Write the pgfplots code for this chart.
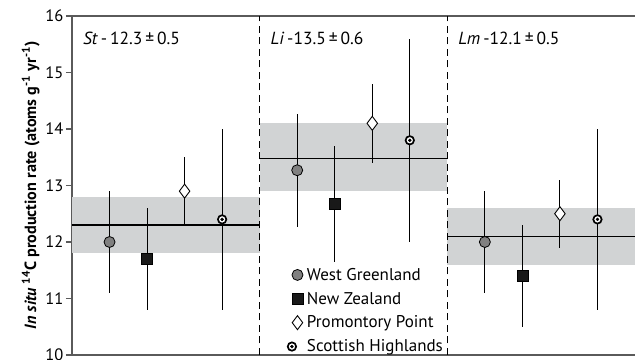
\documentclass[border=0pt]{standalone}
\usepackage{pgfplots}
\pgfplotsset{compat=1.18}
\usepackage{fontspec}
\setmainfont{PT Sans}
\definecolor{band}{HTML}{D1D3D4}
\definecolor{spine}{HTML}{5A5A5A}
\definecolor{wg}{HTML}{808080}
\begin{document}
\begin{tikzpicture}
\begin{axis}[
  scale only axis, width=563pt, height=339pt,
  xmin=0, xmax=15, ymin=10, ymax=16,
  axis y line*=left,
  axis line style={spine, line width=1.3pt},
  xtick=\empty,
  ytick={10,11,12,13,14,15,16},
  ytick pos=left, tick align=outside,
  major tick length=6pt,
  tick style={spine, line width=1.3pt},
  /pgf/number format/assume math mode=true,
  ticklabel style={font=\fontsize{16.5}{18}\selectfont},
  yticklabel style={xshift=1pt},
  ylabel={\textit{In situ} \textsuperscript{14}C production rate (atoms g\textsuperscript{-1} yr\textsuperscript{-1})},
  ylabel style={font=\fontsize{16.2}{18}\selectfont\bfseries, yshift=-1pt},
  clip=false,
  legend style={at={(axis cs:5.72,9.99)}, anchor=south west, draw=none, fill=none,
    font=\fontsize{17}{19}\selectfont, row sep=6.3pt, inner sep=0pt,
    nodes={inner xsep=4pt}},
  legend cell align=left,
  legend image post style={xshift=-3pt},
]
% bands
\addplot[fill=band, draw=none, forget plot] coordinates {(0,11.8) (5,11.8) (5,12.8) (0,12.8)} -- cycle;
\addplot[fill=band, draw=none, forget plot] coordinates {(5,12.9) (10,12.9) (10,14.1) (5,14.1)} -- cycle;
\addplot[fill=band, draw=none, forget plot] coordinates {(10,11.6) (15,11.6) (15,12.6) (10,12.6)} -- cycle;
% means
\addplot[black, line width=1.1pt, forget plot] coordinates {(0,12.3) (5,12.3)};
\addplot[black, line width=1.1pt, forget plot] coordinates {(5,13.47) (10,13.47)};
\addplot[black, line width=1.1pt, forget plot] coordinates {(10,12.1) (15,12.1)};
% dividers
\addplot[black, line width=1.6pt, dash pattern=on 7pt off 4.5pt, forget plot] coordinates {(5,10) (5,16)};
\addplot[black, line width=1.6pt, dash pattern=on 7pt off 4.5pt, forget plot] coordinates {(10,10) (10,16)};
% error bars
\addplot[only marks, mark=none, forget plot, error bars/.cd, y dir=both, y explicit, error mark=none,
  error bar style={black, line width=0.9pt}] table[x=x, y=y, y error=e] {
x y e
1 12.0 0.9
2 11.7 0.9
3 12.9 0.6
4 12.4 1.6
6 13.27 1.0
7 12.67 1.03
8 14.1 0.7
9 13.8 1.8
11 12.0 0.9
12 11.4 0.9
13 12.5 0.6
14 12.4 1.6
};
% markers
\addplot[only marks, mark=*, mark size=5.5pt, mark options={fill=wg, draw=black, line width=0.8pt}]
  coordinates {(1,12.0) (6,13.27) (11,12.0)};
\addlegendentry{West Greenland}
\addplot[only marks, mark=square*, mark size=5.5pt, mark options={fill=black!90, draw=black}]
  coordinates {(2,11.7) (7,12.67) (12,11.4)};
\addlegendentry{New Zealand}
\addplot[only marks, mark=diamond*, mark size=7pt, mark options={fill=white, draw=black, line width=0.9pt}]
  coordinates {(3,12.9) (8,14.1) (13,12.5)};
\addlegendentry{Promontory Point}
\addplot[only marks, mark=*, mark size=4.2pt, mark options={fill=white, draw=black, line width=1.7pt},
  legend image code/.code={\draw[black, line width=1.7pt, fill=white] (0.3em,0) circle (4.2pt); \fill[black] (0.3em,0) circle (1.5pt);}]
  coordinates {(4,12.4) (9,13.8) (14,12.4)};
\addlegendentry{Scottish Highlands}
\addplot[only marks, mark=*, mark size=1.5pt, mark options={fill=black, draw=black}, forget plot]
  coordinates {(4,12.4) (9,13.8) (14,12.4)};
% panel labels
\node[anchor=west, font=\fontsize{17.5}{19}\selectfont] at (axis cs:0.2,15.6) {\textit{St}\,-\,12.3\,±\,0.5};
\node[anchor=west, font=\fontsize{17.5}{19}\selectfont] at (axis cs:5.2,15.6) {\textit{Li}\,-13.5\,±\,0.6};
\node[anchor=west, font=\fontsize{17.5}{19}\selectfont] at (axis cs:10.2,15.6) {\textit{Lm}\,-12.1\,±\,0.5};
\coordinate (sw) at (rel axis cs:0,0);
\coordinate (ne) at (rel axis cs:1,1);
\end{axis}
\pgfresetboundingbox
\path[use as bounding box] ([xshift=-72pt,yshift=-5pt]sw) rectangle ([yshift=16pt]ne);
\end{tikzpicture}
\end{document}
